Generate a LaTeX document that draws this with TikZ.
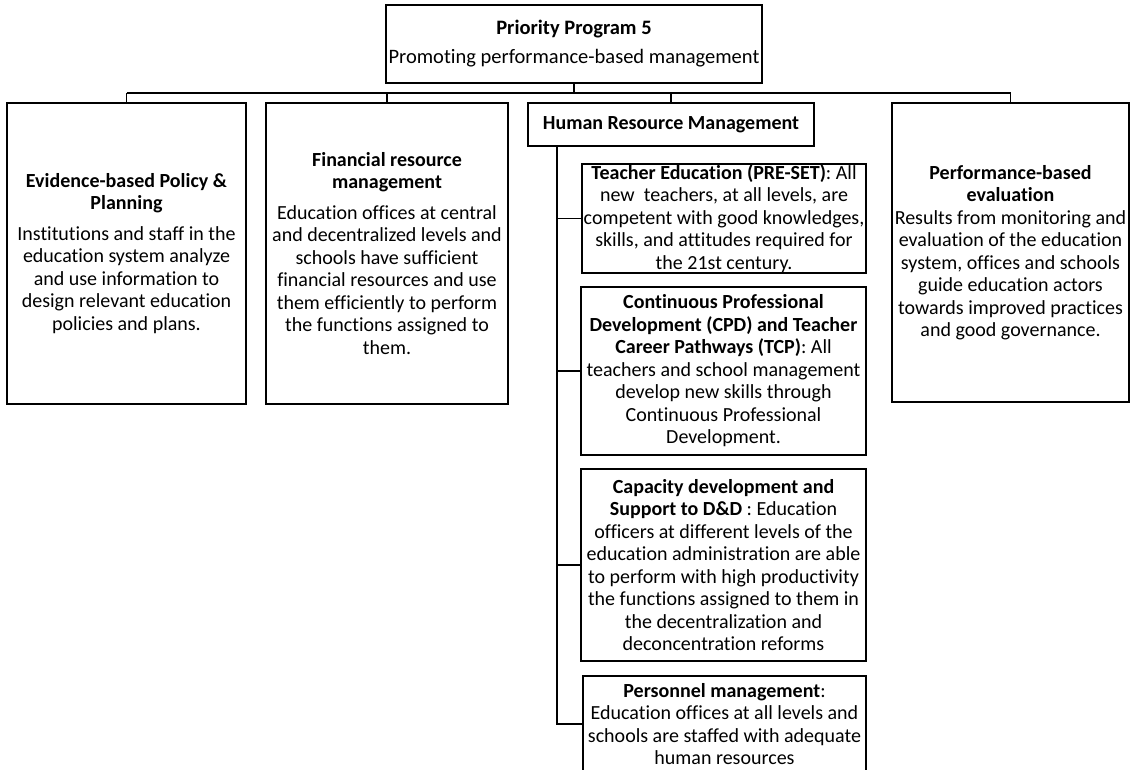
\documentclass[tikz,border=0pt]{standalone}
\usepackage{fontspec}
\setmainfont{Carlito}[Ligatures=NoCommon]
\begin{document}
\begin{tikzpicture}[x=1pt,y=-1pt]
\tikzset{
  box/.style={draw, line width=1.4pt, align=center, inner sep=0pt, font=\fontsize{20}{22.5}\selectfont},
  conn/.style={line width=1.4pt}
}
\useasboundingbox (0,0) rectangle (1131,769);
\clip (0,0) rectangle (1131,769);

\node[box, minimum width=376, minimum height=78, font=\fontsize{20.5}{23}\selectfont] (top) at (574,44)
  {\textbf{Priority Program 5}\\[6pt]Promoting performance-based management};

\node[box, minimum width=239, minimum height=301] (b1) at (126.5,253.5)
  {\textbf{Evidence-based Policy \&}\\\textbf{Planning}\\[8pt]
   Institutions and staff in the\\education system analyze\\and use information to\\design relevant education\\policies and plans.};

\node[box, minimum width=242, minimum height=301] (b2) at (387,253.5)
  {\textbf{Financial resource}\\\textbf{management}\\[8pt]
   Education offices at central\\and decentralized levels and\\schools have sufficient\\financial resources and use\\them efficiently to perform\\the functions assigned to\\them.};

\node[box, minimum width=286, minimum height=43] (hr) at (671,124.5)
  {\textbf{Human Resource Management}};

\node[box, minimum width=237, minimum height=299] (b4) at (1010.5,252.5)
  {\textbf{Performance-based}\\\textbf{evaluation}\\
   Results from monitoring and\\evaluation of the education\\system, offices and schools\\guide education actors\\towards improved practices\\and good governance.};

\node[box, minimum width=284, minimum height=109] (te) at (724,218.5)
  {\textbf{Teacher Education (PRE-SET)}: All\\new\ \ teachers, at all levels, are\\competent with good knowledges,\\skills, and attitudes required for\\the 21st century.};

\node[box, minimum width=285, minimum height=168] (cpd) at (723.5,371)
  {\textbf{Continuous Professional}\\\textbf{Development (CPD) and Teacher}\\\textbf{Career Pathways (TCP)}: All\\teachers and school management\\develop new skills through\\Continuous Professional\\Development.};

\node[box, minimum width=285, minimum height=192] (cap) at (723.5,565)
  {\textbf{Capacity development and}\\\textbf{Support to D\&D} : Education\\officers at different levels of the\\education administration are able\\to perform with high productivity\\the functions assigned to them in\\the decentralization and\\deconcentration reforms};

\node[box, minimum width=283, minimum height=96] (pm) at (724.5,724)
  {\textbf{Personnel management}:\\Education offices at all levels and\\schools are staffed with adequate\\human resources};

\coordinate (bus) at (0,93);
\coordinate (trunk) at (557,0);

\draw[conn] (top.south) -- (top.south |- bus);
\draw[conn] (b1.north |- bus) -- (b4.north |- bus);
\draw[conn] (b1.north |- bus) -- (b1.north);
\draw[conn] (b2.north |- bus) -- (b2.north);
\draw[conn] (hr.north |- bus) -- (hr.north);
\draw[conn] (b4.north |- bus) -- (b4.north);

\draw[conn] (hr.south -| trunk) -- (trunk |- pm.west) -- (pm.west);
\draw[conn] (trunk |- te.west) -- (te.west);
\draw[conn] (trunk |- cpd.west) -- (cpd.west);
\draw[conn] (trunk |- cap.west) -- (cap.west);
\end{tikzpicture}
\end{document}
